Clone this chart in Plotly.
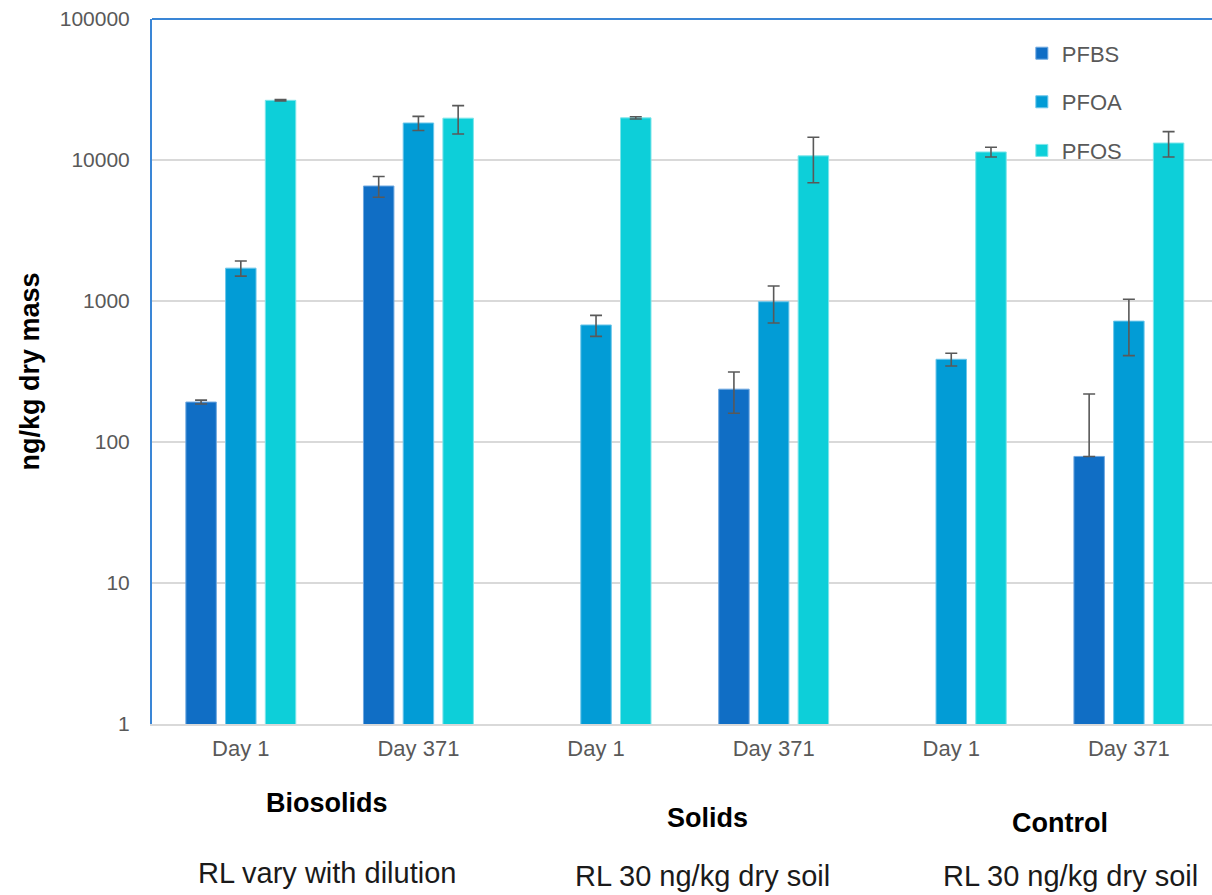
import plotly.graph_objects as go

# Sample groups and sampling days
groups = ["Biosolids", "Solids", "Control"]
days = ["Day 1", "Day 371"]
categories = [f"{g} {d}" for g in groups for d in days]
day_labels = [d for g in groups for d in days]

# Concentrations (ng/kg dry mass), one value per category; None = not detected
pfbs = [192, 6540, None, 237, None, 79]
pfoa = [1710, 18300, 676, 988, 386, 720]
pfos = [26500, 19800, 19900, 10700, 11400, 13200]

# Standard deviations
pfbs_err = [6, 1100, None, 77, None, 140]
pfoa_err = [210, 2100, 115, 290, 40, 310]
pfos_err = [300, 4500, 350, 3800, 900, 2700]

# Reporting-limit notes under each group
rl_notes = ["RL vary with dilution", "RL 30 ng/kg dry soil", "RL 30 ng/kg dry soil"]

tick_values = [1, 10, 100, 1000, 10000, 100000]
tick_labels = ["1", "10", "100", "1000", "10000", "100000"]

series = [
    ("PFBS", pfbs, pfbs_err, "#106EC5", "#6FA8E0"),
    ("PFOA", pfoa, pfoa_err, "#029CD6", "#6CC6EA"),
    ("PFOS", pfos, pfos_err, "#0DCFD9", "#7DE5EA"),
]

fig = go.Figure()
for name, vals, errs, color, edge in series:
    plus = errs
    # lower whisker cannot cross zero on a log axis
    minus = [None if e is None else (e if e < v else 0) for v, e in zip(vals, errs)]
    fig.add_trace(go.Bar(
        name=name, x=categories, y=vals,
        marker=dict(color=color, line=dict(color=edge, width=1)),
        error_y=dict(type="data", symmetric=False, array=plus, arrayminus=minus,
                     color="#595959", thickness=1.6, width=6),
        legendgroup=name,
    ))

label_font = dict(family="Liberation Sans, Arial, sans-serif", size=27, color="#000000")
note_font = dict(family="Liberation Sans, Arial, sans-serif", size=29, color="#1a1a1a")

group_x = [0.485, 2.625, 4.613]
group_y = [-0.112, -0.1333, -0.140]
note_x = [0.485, 2.60, 4.674]
note_y = [-0.2113, -0.2156, -0.2156]

annotations = []
for g, gx, gy in zip(groups, group_x, group_y):
    annotations.append(dict(text=f"<b>{g}</b>", x=gx, y=gy, xref="x", yref="paper",
                            showarrow=False, xanchor="center", yanchor="middle",
                            font=label_font))
for n, nx, ny in zip(rl_notes, note_x, note_y):
    annotations.append(dict(text=n, x=nx, y=ny, xref="x", yref="paper",
                            showarrow=False, xanchor="center", yanchor="middle",
                            font=note_font))

fig.update_layout(
    width=1212, height=895,
    margin=dict(l=152, r=0, t=19, b=171),
    paper_bgcolor="white", plot_bgcolor="white",
    barmode="group", bargap=0.329, bargroupgap=0.233,
    font=dict(family="Liberation Sans, Arial, sans-serif", size=22, color="#595959"),
    showlegend=True,
    legend=dict(x=0.8206, y=0.981, xanchor="left", yanchor="top",
                bgcolor="rgba(0,0,0,0)", tracegroupgap=17,
                font=dict(size=22, color="#595959")),
    annotations=annotations,
    shapes=[dict(type="line", xref="paper", yref="paper", x0=0, x1=1, y0=1, y1=1,
                 line=dict(color="#3A86D6", width=2))],
    xaxis=dict(
        type="category", categoryorder="array", categoryarray=categories,
        tickmode="array", tickvals=categories, ticktext=day_labels,
        range=[-0.5, 5.468], showgrid=False, showline=True,
        linecolor="#D9D9D9", linewidth=2, ticks="", ticklabelstandoff=4,
        tickfont=dict(size=22, color="#595959"),
    ),
    yaxis=dict(
        type="log", range=[0, 5], tickmode="array",
        tickvals=tick_values, ticktext=tick_labels,
        showgrid=True, gridcolor="#D9D9D9", gridwidth=2,
        showline=True, linecolor="#3A86D6", linewidth=2, ticks="",
        ticklabelstandoff=16, tickfont=dict(size=21, color="#595959"),
        title=dict(text="<b>ng/kg dry mass</b>", standoff=12,
                   font=dict(size=27, color="#000000")),
    ),
)

fig.write_html("out.html")
